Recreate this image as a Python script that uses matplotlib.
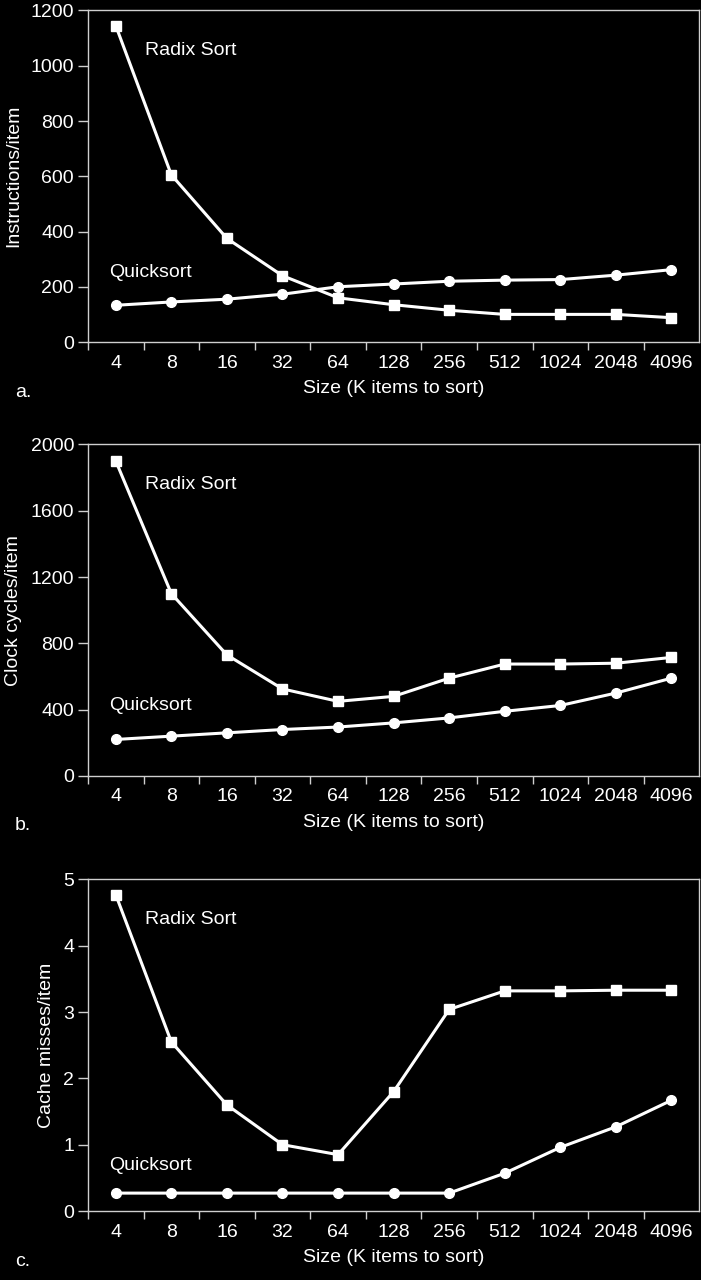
import matplotlib.pyplot as plt
import numpy as np

sizes = ['4', '8', '16', '32', '64', '128', '256', '512', '1024', '2048', '4096']

# a. instructions per item
radix_instr = [1145, 605, 375, 240, 160, 135, 115, 100, 100, 100, 88]
quick_instr = [133, 145, 155, 173, 200, 210, 220, 224, 226, 242, 262]

# b. clock cycles per item
radix_clock = [1900, 1100, 730, 525, 450, 480, 590, 675, 675, 680, 715]
quick_clock = [220, 240, 260, 280, 295, 320, 350, 390, 425, 500, 590]

# c. cache misses per item
radix_miss = [4.77, 2.55, 1.6, 1.0, 0.85, 1.8, 3.04, 3.32, 3.32, 3.33, 3.33]
quick_miss = [0.27, 0.27, 0.27, 0.27, 0.27, 0.27, 0.27, 0.57, 0.96, 1.27, 1.67]

plt.rcParams['font.family'] = ['Liberation Sans', 'DejaVu Sans']
fs = 14

fg = 'white'
spine_col = '#cfcfcf'

fig = plt.figure(figsize=(7.01, 12.8), dpi=100, facecolor='black')

panels = [
    (0.7328, radix_instr, quick_instr, 1200, 200, 'Instructions/item', 'a.', 1055, 253),
    (0.3938, radix_clock, quick_clock, 2000, 400, 'Clock cycles/item', 'b.', 1758, 423),
    (0.0539, radix_miss, quick_miss, 5, 1, 'Cache misses/item', 'c.', 4.40, 0.69),
]

x = np.arange(len(sizes))

for bottom, radix, quick, ymax, ystep, ylabel, tag, ry, qy in panels:
    ax = fig.add_axes([0.1255, bottom, 0.872, 0.2590])
    ax.set_facecolor('black')
    ax.plot(x, radix, color=fg, lw=2.2, marker='s', ms=7, mec=fg, mfc=fg, clip_on=False)
    ax.plot(x, quick, color=fg, lw=2.2, marker='o', ms=7, mec=fg, mfc=fg, clip_on=False)

    ax.set_xlim(-0.5, len(sizes) - 0.5)
    ax.set_ylim(0, ymax)
    ax.set_yticks(np.arange(0, ymax + ystep / 2, ystep))

    # boundary ticks (unlabelled) and category labels centred between them
    ax.set_xticks(np.arange(-0.5, len(sizes) - 0.5, 1.0))
    ax.set_xticklabels([])
    ax.set_xticks(x, minor=True)
    ax.set_xticklabels(sizes, minor=True)
    ax.tick_params(axis='x', which='major', length=6, width=1, color=spine_col, direction='out')
    ax.tick_params(axis='x', which='minor', length=0, pad=9, colors=fg, labelsize=fs)
    ax.tick_params(axis='y', length=7, width=1, color=spine_col, direction='out', pad=3,
                   labelcolor=fg, labelsize=fs)

    for s in ax.spines.values():
        s.set_color(spine_col)
        s.set_linewidth(1.0)

    ax.set_ylabel(ylabel, color=fg, fontsize=fs, labelpad=6)
    ax.set_xlabel('Size (K items to sort)', color=fg, fontsize=fs, labelpad=6)

    ax.text(0.53, ry, 'Radix Sort', color=fg, fontsize=fs, va='center', ha='left')
    ax.text(-0.12, qy, 'Quicksort', color=fg, fontsize=fs, va='center', ha='left')

    fig.text(15 / 701, bottom - 50 / 1280, tag, color=fg, fontsize=fs, va='center', ha='left')

fig.savefig('out.png', dpi=100, facecolor='black')
